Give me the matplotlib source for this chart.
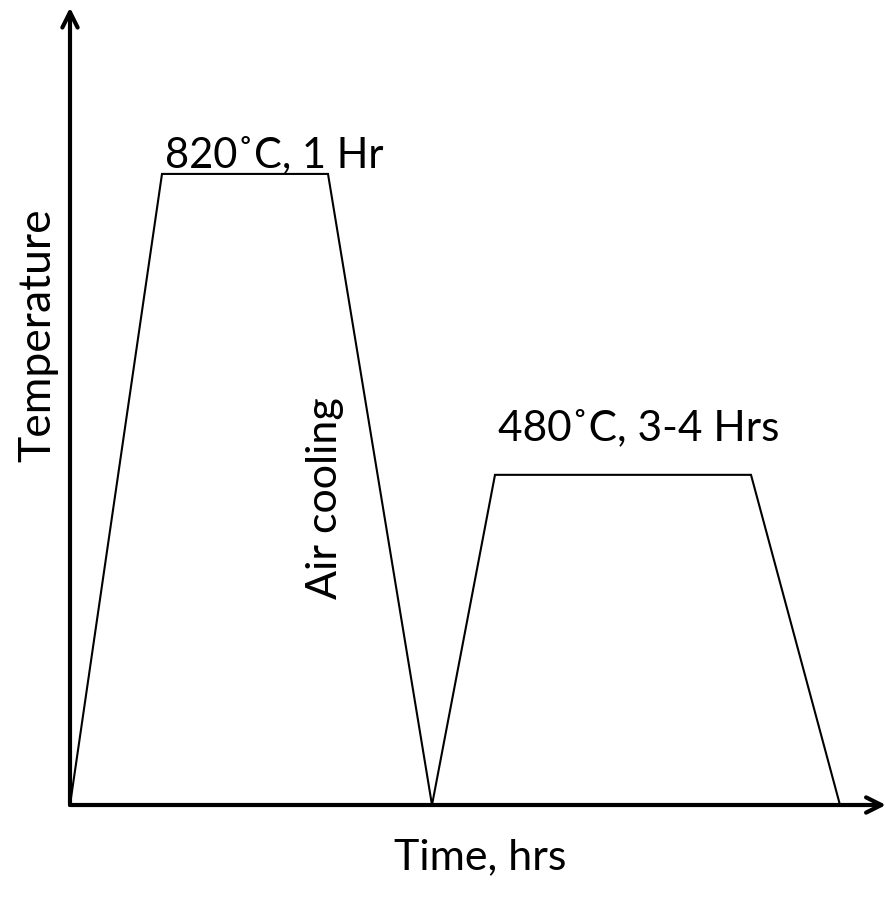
import matplotlib.pyplot as plt

# esquema del tratamiento termico (unidades arbitrarias)
tiempo = [0, 9.2, 25.8, 36.2, 42.5, 68.1, 77.0]
temperatura = [0, 820, 820, 0, 429, 429, 0]

etiqueta_1 = '820˚C, 1 Hr'
etiqueta_2 = '480˚C, 3-4 Hrs'
etiqueta_enfriamiento = 'Air cooling'

plt.rcParams['font.family'] = ['Lato', 'DejaVu Sans']

fig = plt.figure(figsize=(8.86, 8.99), dpi=100)
ax = fig.add_axes([70 / 886, 94 / 899, 816 / 886, 795 / 899])
ax.set_xlim(0, 81.6)
ax.set_ylim(0, 1033)
ax.axis('off')

ax.plot(tiempo, temperatura, color='black', lw=1.5, solid_joinstyle='miter')

# ejes con flecha
flecha = dict(arrowstyle='->,head_length=1.1,head_width=0.55', color='black', lw=3,
              shrinkA=0, shrinkB=0)
ax.annotate('', xy=(1, 0), xytext=(0, 0), xycoords='axes fraction', arrowprops=flecha)
ax.annotate('', xy=(0, 1.003), xytext=(0, 0), xycoords='axes fraction', arrowprops=flecha)

ax.annotate(etiqueta_1, xy=(tiempo[1], temperatura[1]), xytext=(2, 5),
            textcoords='offset points', fontsize=30, va='baseline', ha='left')
ax.annotate(etiqueta_2, xy=(tiempo[4], temperatura[4]), xytext=(2, 25),
            textcoords='offset points', fontsize=30.5, va='baseline', ha='left')
ax.text(25.5, 399, etiqueta_enfriamiento, rotation=90, fontsize=31,
        ha='center', va='center')

ax.text(-3.2, 611, 'Temperature', rotation=90, fontsize=32, ha='center', va='center',
        clip_on=False)
ax.text(41, -68, 'Time, hrs', fontsize=31, ha='center', va='center', clip_on=False)

fig.savefig('out.png', dpi=100)
